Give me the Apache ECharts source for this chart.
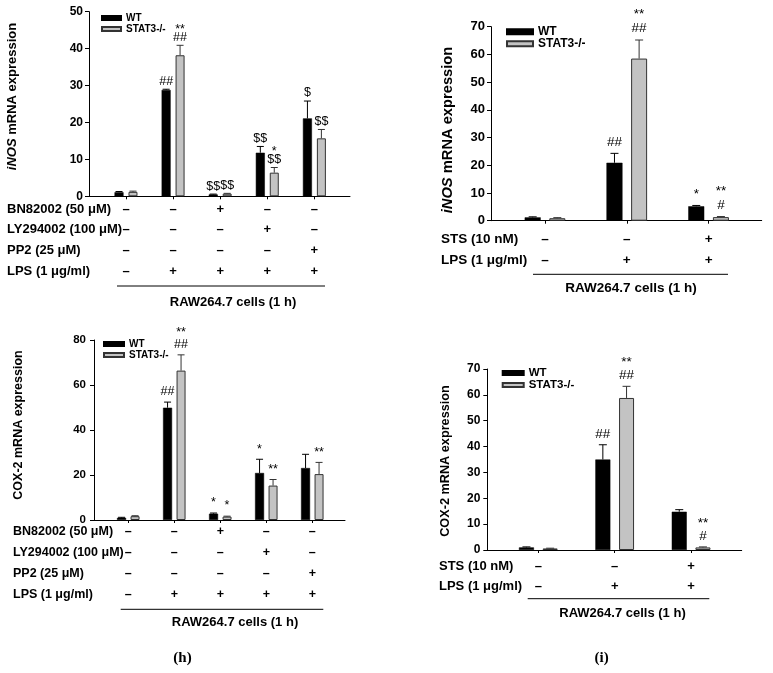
<!DOCTYPE html>
<html><head><meta charset="utf-8">
<script src="https://cdn.jsdelivr.net/npm/echarts@6/dist/echarts.min.js"></script>
<style>html,body{margin:0;padding:0;background:#fff}#c{width:773px;height:673px}</style>
</head><body><div id="c"></div>
<script>
// ---------------- data ----------------
const seriesNames = ['WT', 'STAT3-/-'];
const hRowLabels = ['BN82002 (50 μM)', 'LY294002 (100 μM)', 'PP2 (25 μM)', 'LPS (1 μg/ml)'];
const hSigns = [['–','–','–','–'],['–','–','–','+'],['+','–','–','+'],['–','+','–','+'],['–','–','+','+']];
const iRowLabels = ['STS (10 nM)', 'LPS (1 μg/ml)'];
const iSigns = [['–','–'],['–','+'],['+','+']];
const groupLabel = 'RAW264.7 cells (1 h)';
const panelLetters = ['(h)', '(i)'];

// iNOS, panel h (top-left)
const iNOSh_WT      = [1.1, 28.8, 0.5, 11.8, 21.1];
const iNOSh_WT_err  = [0.2, 0.2, 0.1, 1.7, 4.7];
const iNOSh_ST      = [1.2, 38.2, 0.7, 6.4, 15.7];
const iNOSh_ST_err  = [0.2, 2.7, 0.1, 1.4, 2.4];
const iNOSh_WT_ann  = ['', '##', '$$', '$$', '$'];
const iNOSh_ST_ann  = ['', '**\n##', '$$', '*\n$$', '$$'];

// iNOS, panel i (top-right)
const iNOSi_WT      = [1.2, 20.9, 5.2];
const iNOSi_WT_err  = [0.2, 3.4, 0.3];
const iNOSi_ST      = [0.9, 58.5, 1.3];
const iNOSi_ST_err  = [0.2, 6.7, 0.2];
const iNOSi_WT_ann  = ['', '##', '*'];
const iNOSi_ST_ann  = ['', '**\n##', '**\n#'];

// COX-2, panel h (bottom-left)
const COXh_WT       = [1.0, 49.9, 2.8, 20.9, 23.1];
const COXh_WT_err   = [0.2, 2.5, 0.3, 6.1, 6.1];
const COXh_ST       = [1.7, 66.4, 1.5, 15.3, 20.4];
const COXh_ST_err   = [0.2, 7.0, 0.2, 2.7, 5.2];
const COXh_WT_ann   = ['', '##', '*', '*', ''];
const COXh_ST_ann   = ['', '**\n##', '*', '**', '**'];

// COX-2, panel i (bottom-right)
const COXi_WT       = [1.0, 35.0, 14.8];
const COXi_WT_err   = [0.2, 5.7, 0.8];
const COXi_ST       = [0.6, 58.8, 1.0];
const COXi_ST_err   = [0.1, 4.5, 0.2];
const COXi_WT_ann   = ['', '##', ''];
const COXi_ST_ann   = ['', '**\n##', '**\n#'];

// ---------------- layout ----------------
const FF = '"Liberation Sans", Arial, Helvetica, sans-serif';
const panels = [
  { signs: hSigns, rows: hRowLabels, wt: iNOSh_WT, wtErr: iNOSh_WT_err, st: iNOSh_ST, stErr: iNOSh_ST_err,
    wtAnn: iNOSh_WT_ann, stAnn: iNOSh_ST_ann, yMax: 50, yInt: 10, name: '{it|iNOS} mRNA expression',
    L: { axisX: 89, axisR: 350, top: 11.7, y0: 196.3, c0: 126, step: 47.1, bw: 9, gap: 0.55, cap: 7,
         tick: 12, ann: 12.5, annLH: 8, annGap: 4,
         lg: { x: 101, y: 12.5, w: 19, h: 4, fs: 10, lh: 11 },
         nameX: 12, nameY: 96.5, nameFs: 13, rowX: 7, row0: 209, rowStep: 20.9, rowFs: 13,
         lineY: 286, lx1: 117, lx2: 325, rawX: 233, rawY: 302, rawFs: 13, labMargin: 6 } },
  { signs: iSigns, rows: iRowLabels, wt: iNOSi_WT, wtErr: iNOSi_WT_err, st: iNOSi_ST, stErr: iNOSi_ST_err,
    wtAnn: iNOSi_WT_ann, stAnn: iNOSi_ST_ann, yMax: 70, yInt: 10, name: '{it|iNOS} mRNA expression',
    L: { axisX: 491, axisR: 761.7, top: 26.7, y0: 220.7, c0: 545, step: 81.8, bw: 16, gap: 0.54, cap: 8,
         tick: 13, ann: 13.5, annLH: 14.5, annGap: 4,
         lg: { x: 506, y: 25.7, w: 26, h: 5, fs: 12, lh: 12 },
         nameX: 448, nameY: 130, nameFs: 14.7, rowX: 441, row0: 239, rowStep: 21, rowFs: 13.5,
         lineY: 274.3, lx1: 533, lx2: 728, rawX: 631, rawY: 288, rawFs: 13.5, labMargin: 6 } },
  { signs: hSigns, rows: hRowLabels, wt: COXh_WT, wtErr: COXh_WT_err, st: COXh_ST, stErr: COXh_ST_err,
    wtAnn: COXh_WT_ann, stAnn: COXh_ST_ann, yMax: 80, yInt: 20, name: 'COX-2 mRNA expression',
    L: { axisX: 94, axisR: 345, top: 340, y0: 520, c0: 128.3, step: 46, bw: 9, gap: 0.5, cap: 7,
         tick: 11.5, ann: 12.5, annLH: 12.3, annGap: 4,
         lg: { x: 103, y: 338.5, w: 20, h: 4, fs: 10, lh: 11 },
         nameX: 18.3, nameY: 425, nameFs: 12.5, rowX: 13, row0: 531.7, rowStep: 20.8, rowFs: 12.5,
         lineY: 609.3, lx1: 120.7, lx2: 323.3, rawX: 235, rawY: 622.7, rawFs: 13, labMargin: 8 } },
  { signs: iSigns, rows: iRowLabels, wt: COXi_WT, wtErr: COXi_WT_err, st: COXi_ST, stErr: COXi_ST_err,
    wtAnn: COXi_WT_ann, stAnn: COXi_ST_ann, yMax: 70, yInt: 10, name: 'COX-2 mRNA expression',
    L: { axisX: 487.3, axisR: 741.7, top: 369, y0: 550, c0: 538.3, step: 76.4, bw: 15, gap: 0.58, cap: 8,
         tick: 12, ann: 13.5, annLH: 13.4, annGap: 4,
         lg: { x: 501.7, y: 366.9, w: 21, h: 4, fs: 11.5, lh: 11.6 },
         nameX: 445, nameY: 461, nameFs: 12.7, rowX: 439, row0: 566, rowStep: 20, rowFs: 13,
         lineY: 598.7, lx1: 527.7, lx2: 709.3, rawX: 622.5, rawY: 613.3, rawFs: 13, labMargin: 7 } }
];
const letterPos = [[182.5, 658], [601.7, 658]];

const grids = [], xAxes = [], yAxes = [], series = [], legends = [], graphics = [];
const axisLineStyle = { color: '#000', width: 1 };

function txt(x, y, text, fs, weight, align, valign, extra) {
  return Object.assign({ type: 'text', x: x, y: y, silent: true,
    style: { text: text, fontSize: fs, fontWeight: weight, fontFamily: FF, fill: '#000',
      align: align, textAlign: align, verticalAlign: valign, textVerticalAlign: valign } }, extra || {});
}

function errRender(L, side, ann, color) {
  return function (params, api) {
    const i = api.value(0), v = api.value(1), e = api.value(2);
    const p0 = api.coord([i, v]);
    const p1 = api.coord([i, v + e]);
    const x = p0[0] + side * L.bw * (1 + L.gap) / 2;
    const ch = [];
    if (e > 0) {
      ch.push({ type: 'line', shape: { x1: x, y1: p0[1], x2: x, y2: p1[1] }, style: { stroke: color, lineWidth: 1 } });
      ch.push({ type: 'line', shape: { x1: x - L.cap / 2, y1: p1[1], x2: x + L.cap / 2, y2: p1[1] }, style: { stroke: color, lineWidth: 1 } });
    }
    const t = ann[params.dataIndex];
    if (t) {
      ch.push({ type: 'text', x: x, y: p1[1] - L.annGap,
        style: { text: t, fontSize: L.ann, fontFamily: FF, fill: '#000', lineHeight: L.annLH,
          align: 'center', textAlign: 'center', verticalAlign: 'bottom', textVerticalAlign: 'bottom' } });
    }
    return { type: 'group', children: ch };
  };
}

panels.forEach(function (P, k) {
  const L = P.L, n = P.signs.length;
  const gA = 2 * k, gB = 2 * k + 1;
  grids.push({ left: L.axisX, top: L.top, width: L.axisR - L.axisX, height: L.y0 - L.top, outerBoundsMode: 'none' });
  grids.push({ left: L.c0 - L.step / 2, top: L.top, width: L.step * n, height: L.y0 - L.top, outerBoundsMode: 'none' });
  xAxes.push({ gridIndex: gA, type: 'value', min: 0, max: 1,
    axisLine: { show: true, onZero: false, lineStyle: axisLineStyle },
    axisTick: { show: false }, axisLabel: { show: false }, splitLine: { show: false } });
  xAxes.push({ gridIndex: gB, type: 'category', data: P.signs.map(s => s.join('\n')),
    axisLine: { show: false },
    axisTick: { show: true, alignWithLabel: true, length: 3, lineStyle: axisLineStyle },
    axisLabel: { interval: 0, margin: L.row0 - L.y0 - L.rowStep / 2, lineHeight: L.rowStep,
      fontSize: L.rowFs, fontWeight: 'bold', fontFamily: FF, color: '#000' },
    splitLine: { show: false } });
  yAxes.push({ gridIndex: gA, type: 'value', min: 0, max: P.yMax, interval: P.yInt,
    axisLine: { show: true, onZero: false, lineStyle: axisLineStyle },
    axisTick: { show: true, length: 4, lineStyle: axisLineStyle },
    axisLabel: { margin: L.labMargin, fontSize: L.tick, fontWeight: 'bold', fontFamily: FF, color: '#000' },
    splitLine: { show: false } });
  yAxes.push({ gridIndex: gB, type: 'value', min: 0, max: P.yMax, show: false });

  series.push({ type: 'bar', name: seriesNames[0], xAxisIndex: gB, yAxisIndex: gB, data: P.wt,
    barWidth: L.bw, barGap: (L.gap * 100) + '%', itemStyle: { color: '#000', borderColor: '#000', borderWidth: 0.5 }, silent: true });
  series.push({ type: 'bar', name: seriesNames[1], xAxisIndex: gB, yAxisIndex: gB, data: P.st,
    barWidth: L.bw, barGap: (L.gap * 100) + '%', itemStyle: { color: '#c3c3c3', borderColor: '#333', borderWidth: 1 }, silent: true });
  series.push({ type: 'custom', name: 'errWT' + k, xAxisIndex: gB, yAxisIndex: gB, clip: false, silent: true, z: 5,
    data: P.wt.map((v, i) => [i, v, P.wtErr[i]]), renderItem: errRender(L, -1, P.wtAnn, '#000') });
  series.push({ type: 'custom', name: 'errST' + k, xAxisIndex: gB, yAxisIndex: gB, clip: false, silent: true, z: 5,
    data: P.st.map((v, i) => [i, v, P.stErr[i]]), renderItem: errRender(L, 1, P.stAnn, '#333') });

  legends.push({ left: L.lg.x, top: L.lg.y, orient: 'vertical', itemWidth: L.lg.w, itemHeight: L.lg.h,
    itemGap: 0, padding: 0, icon: 'rect', selectedMode: false, data: seriesNames,
    textStyle: { fontSize: L.lg.fs, fontWeight: 'bold', fontFamily: FF, color: '#000', lineHeight: L.lg.lh } });

  // y-axis title
  const nm = txt(L.nameX, L.nameY, P.name, L.nameFs, 'bold', 'center', 'middle', { rotation: Math.PI / 2 });
  nm.style.rich = { it: { fontStyle: 'italic', fontWeight: 'bold', fontSize: L.nameFs, fontFamily: FF, fill: '#000' } };
  graphics.push(nm);
  // row labels of the treatment table
  P.rows.forEach(function (r, j) {
    graphics.push(txt(L.rowX, L.row0 + j * L.rowStep, r, L.rowFs, 'bold', 'left', 'middle'));
  });
  graphics.push({ type: 'line', silent: true, shape: { x1: L.lx1, y1: L.lineY, x2: L.lx2, y2: L.lineY },
    style: { stroke: '#000', lineWidth: 1 } });
  graphics.push(txt(L.rawX, L.rawY, groupLabel, L.rawFs, 'bold', 'center', 'middle'));
});

panelLetters.forEach(function (s, j) {
  const t = txt(letterPos[j][0], letterPos[j][1], s, 15, 'bold', 'center', 'middle');
  t.style.fontFamily = '"Liberation Serif", "DejaVu Serif", serif';
  graphics.push(t);
});

const chart = echarts.init(document.getElementById('c'), null, { renderer: 'canvas' });
chart.setOption({
  backgroundColor: '#fff',
  animation: false,
  grid: grids, xAxis: xAxes, yAxis: yAxes, legend: legends, series: series,
  graphic: { elements: graphics }
});
</script></body></html>
